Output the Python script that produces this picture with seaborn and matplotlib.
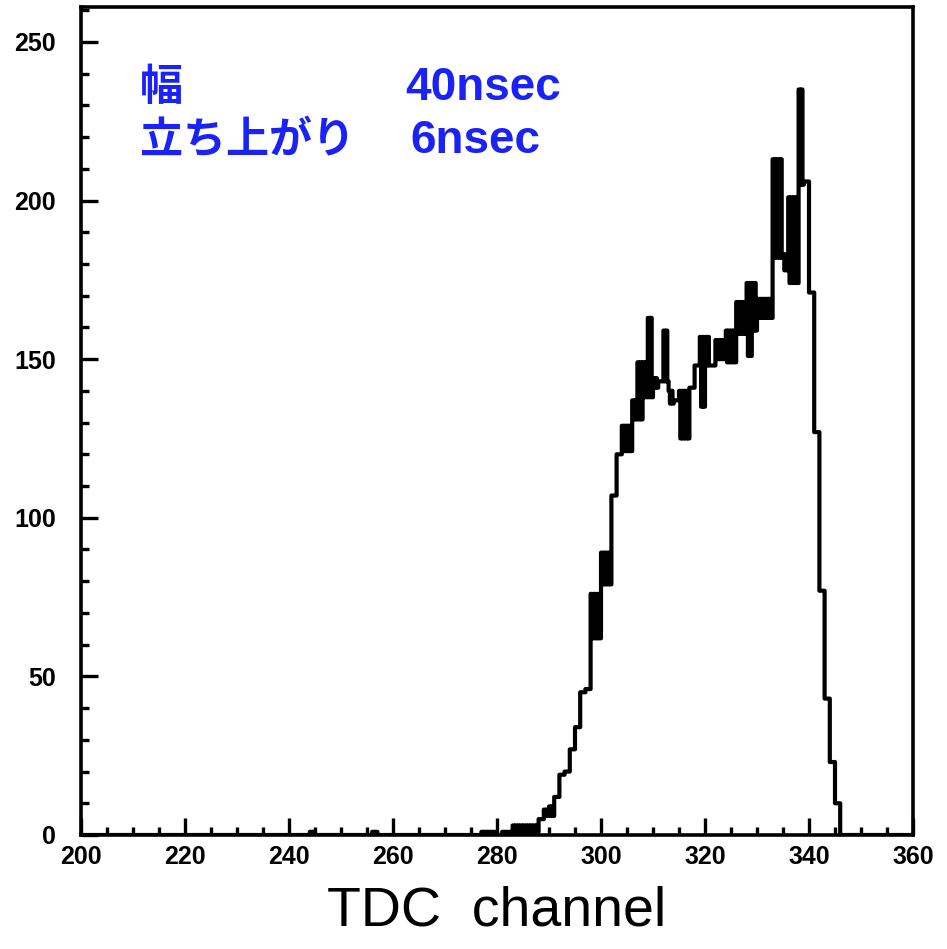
import numpy as np
import pandas as pd
import matplotlib
matplotlib.use("Agg")
import matplotlib.pyplot as plt
from matplotlib.ticker import MultipleLocator
import seaborn as sns

# ---- data (per TDC channel: low / high count) ----
channels = [244, 256, 277, 278, 279, 281, 282, 283, 284, 285, 286, 287, 288, 289, 290,
            291, 292, 293, 294, 295, 296, 297, 298, 299, 300, 301, 302, 303, 304, 305,
            306, 307, 308, 309, 310, 311, 312, 313, 314, 315, 316, 317, 318, 319, 320,
            321, 322, 323, 324, 325, 326, 327, 328, 329, 330, 331, 332, 333, 334, 335,
            336, 337, 338, 339, 340, 341, 342, 343, 344, 345]
count_low = [1, 1, 1, 1, 1, 1, 1, 1, 1, 1, 1, 1, 5, 6, 6,
             12, 19, 20, 27, 34, 45, 46, 62, 62, 79, 79, 107, 120, 121, 121,
             131, 131, 138, 138, 141, 143, 143, 136, 137, 125, 125, 141, 148, 135, 148,
             148, 150, 150, 149, 149, 158, 158, 151, 159, 163, 163, 163, 182, 182, 178,
             174, 174, 205, 206, 171, 127, 77, 43, 23, 10]
count_high = [1, 1, 1, 1, 1, 1, 1, 3, 3, 3, 3, 3, 5, 8, 9,
              12, 19, 20, 27, 34, 45, 46, 76, 76, 89, 89, 107, 120, 129, 129,
              137, 149, 149, 163, 144, 143, 159, 140, 137, 140, 140, 141, 148, 157, 157,
              148, 156, 156, 159, 159, 168, 168, 174, 174, 169, 169, 169, 213, 213, 183,
              201, 201, 235, 206, 171, 127, 77, 43, 23, 10]

x_ticks = [200, 220, 240, 260, 280, 300, 320, 340, 360]
y_ticks = [0, 50, 100, 150, 200, 250]
label_rows = [("幅", "40nsec"), ("立ち上がり", "6nsec")]
x_label = "TDC  channel"

# ---- build fine sub-bins (the original fluctuates between low/high inside a channel) ----
sub = 4
xs, ws = [], []
for c, lo, hi in zip(channels, count_low, count_high):
    for k in range(sub):
        xs.append(c + (k + 0.5) / sub)
        ws.append(hi if k % 2 == 0 else lo)
df = pd.DataFrame({"channel": xs, "count": ws})

sns.set_style("ticks")
plt.rcParams["font.family"] = ["Liberation Sans", "Noto Sans CJK JP", "DejaVu Sans"]
plt.rcParams["text.color"] = "black"
plt.rcParams["axes.labelcolor"] = "black"
plt.rcParams["xtick.color"] = "black"
plt.rcParams["ytick.color"] = "black"
plt.rcParams["axes.edgecolor"] = "black"

fig = plt.figure(figsize=(9.47, 9.49), dpi=100)
ax = fig.add_axes([81 / 947, 1 - 835 / 949, 832 / 947, 828 / 949])

sns.histplot(data=df, x="channel", weights="count", binwidth=1.0 / sub,
             binrange=(200, 360), element="step",
             fill=False, color="black", linewidth=3.0, ax=ax)

ax.set_xlim(200, 360)
ax.set_ylim(0, 261)
ax.set_xticks(x_ticks)
ax.set_yticks(y_ticks)
ax.xaxis.set_minor_locator(MultipleLocator(5))
ax.yaxis.set_minor_locator(MultipleLocator(10))
ax.tick_params(which="major", direction="in", length=12, width=2.4,
               labelsize=18, pad=7, colors="black")
ax.tick_params(which="minor", direction="in", length=6, width=2.4, colors="black")
ax.tick_params(axis="y", which="major", pad=18)
for lab in ax.get_xticklabels() + ax.get_yticklabels():
    lab.set_fontweight("bold")
for s in ax.spines.values():
    s.set_linewidth(2.6)
    s.set_color("black")
    s.set_visible(True)
ax.set_ylabel("")
ax.set_xlabel(x_label, fontsize=40, labelpad=12, color="black")

blue = "#1a22f5"
fig.text(140 / 947, 1 - 100 / 949, label_rows[0][0], color=blue, fontsize=31,
         fontweight="bold", ha="left", va="baseline")
fig.text(405 / 947, 1 - 100 / 949, label_rows[0][1], color=blue, fontsize=33,
         fontweight="bold", ha="left", va="baseline")
fig.text(140 / 947, 1 - 153 / 949, label_rows[1][0], color=blue, fontsize=31,
         fontweight="bold", ha="left", va="baseline")
fig.text(410 / 947, 1 - 153 / 949, label_rows[1][1], color=blue, fontsize=33,
         fontweight="bold", ha="left", va="baseline")

fig.savefig("out.png", dpi=100)
